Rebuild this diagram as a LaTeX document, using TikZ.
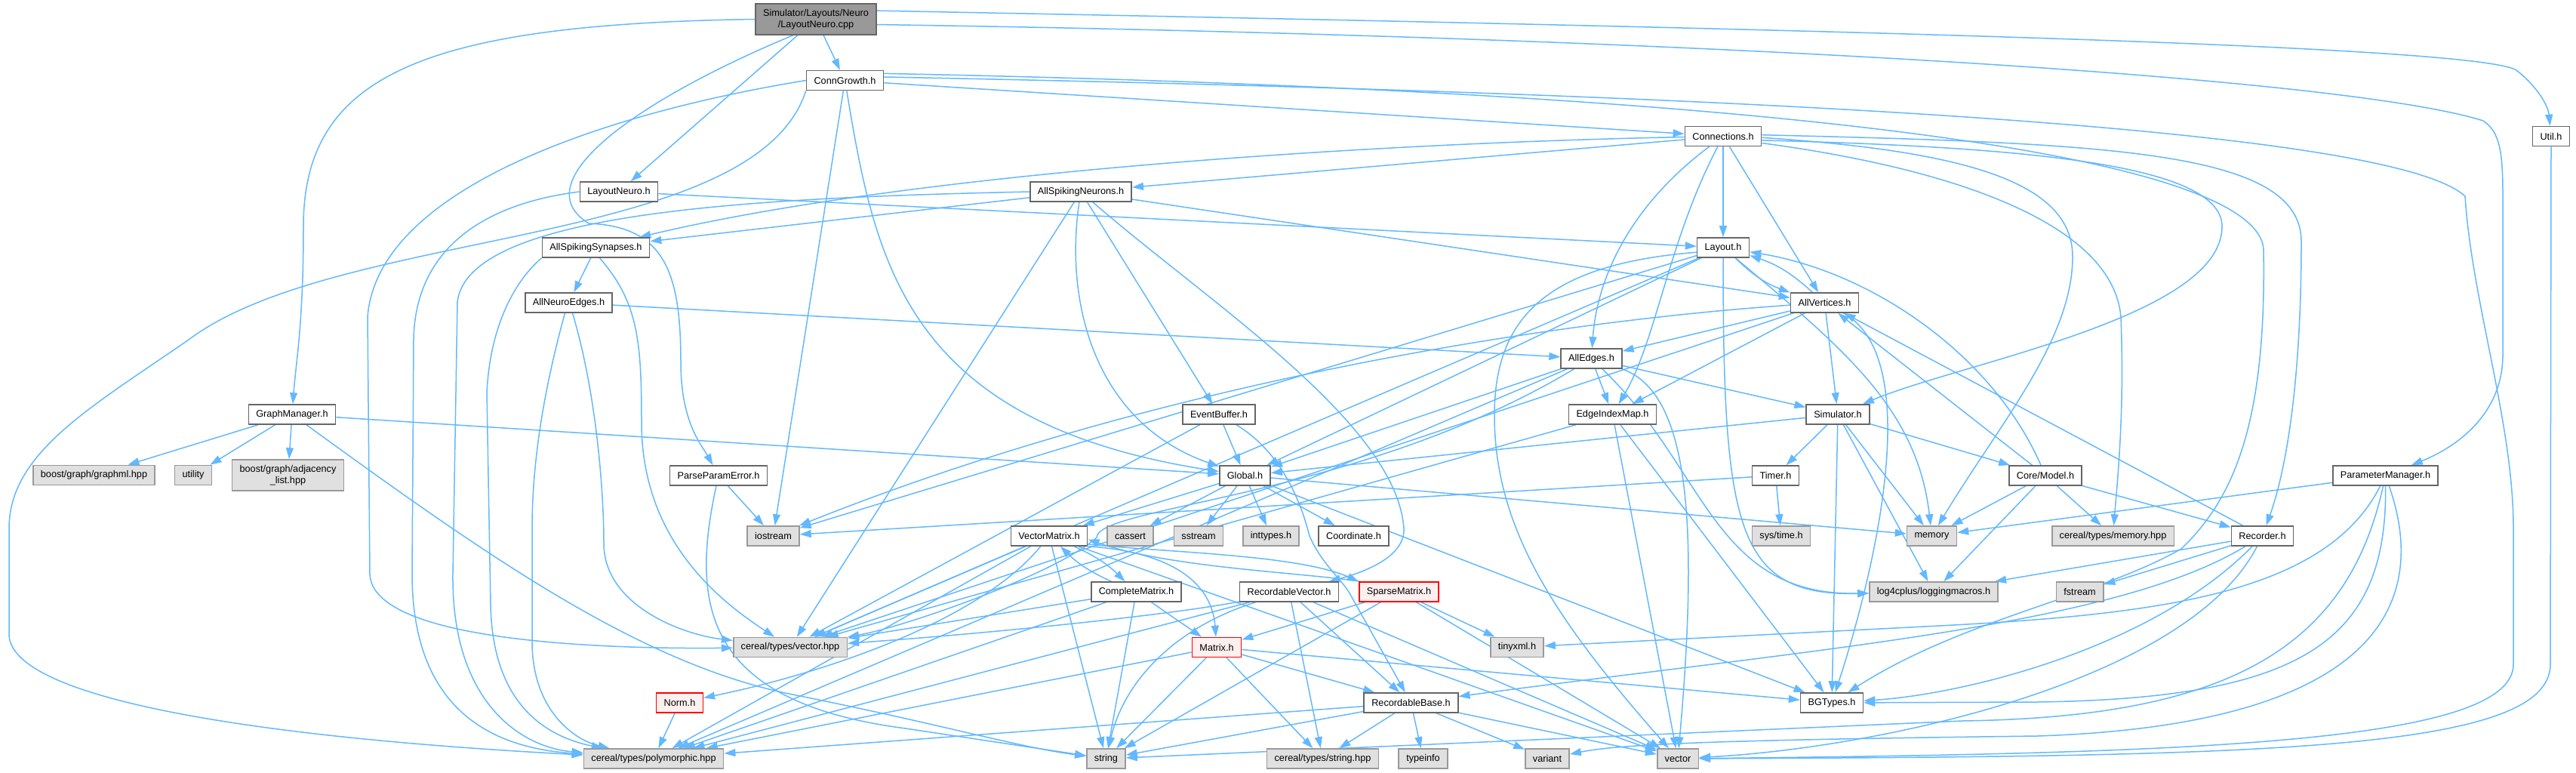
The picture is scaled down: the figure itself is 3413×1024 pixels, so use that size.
\documentclass[tikz,border=0pt]{standalone}
\usepackage{fontspec}
\setmainfont{Liberation Sans}
\usetikzlibrary{arrows.meta,backgrounds}

\definecolor{incblue}{HTML}{63B8FF}
\definecolor{docgray}{HTML}{666666}
\definecolor{sysgray}{HTML}{999999}
\definecolor{sysfill}{HTML}{E0E0E0}
\definecolor{errred}{HTML}{FF0000}
\definecolor{errfill}{HTML}{FFF0F0}

\tikzset{
  hfile/.style={draw=docgray, fill=white, line width=1.6pt, inner xsep=10pt, inner ysep=0pt,
    minimum height=26pt, align=center, font=\fontsize{12.7}{15.2}\selectfont},
  sysfile/.style={hfile, draw=sysgray, fill=sysfill},
  errfile/.style={hfile, draw=errred, fill=errfill},
  mainfile/.style={hfile, fill=sysgray, minimum height=41pt},
  inc/.style={incblue, line width=1.5pt, -{Triangle[length=15pt,width=10pt]}},
}

\begin{document}
\begin{tikzpicture}[x=1pt,y=-1pt]
\useasboundingbox (0,0) rectangle (3413,1024);

% the source file and the headers it pulls in, row by row
\node[mainfile] (cpp) at (1081,25.5) {Simulator/Layouts/Neuro\\/LayoutNeuro.cpp};
\node[hfile] (ConnGrowth) at (1119.5,106.5) {ConnGrowth.h};
\node[hfile] (Connections) at (2283,180.5) {Connections.h};
\node[hfile] (Util) at (3380,180.5) {Util.h};
\node[hfile] (LayoutNeuroH) at (820,254) {LayoutNeuro.h};
\node[hfile] (AllSpikingNeurons) at (1432,254) {AllSpikingNeurons.h};
\node[hfile] (AllSpikingSynapses) at (789.5,328) {AllSpikingSynapses.h};
\node[hfile] (Layout) at (2283,328) {Layout.h};
\node[hfile] (AllNeuroEdges) at (753.5,401) {AllNeuroEdges.h};
\node[hfile] (AllVertices) at (2417.5,401) {AllVertices.h};
\node[hfile] (AllEdges) at (2108.5,475) {AllEdges.h};
\node[hfile] (GraphManager) at (387,549) {GraphManager.h};
\node[hfile] (EventBuffer) at (1615,549) {EventBuffer.h};
\node[hfile] (EdgeIndexMap) at (2136.5,549) {EdgeIndexMap.h};
\node[hfile] (Simulator) at (2435,549) {Simulator.h};
\node[sysfile] (graphml) at (124.5,629.5) {boost/graph/graphml.hpp};
\node[sysfile] (utility) at (256,629.5) {utility};
\node[sysfile, minimum height=41pt] (adjlist) at (381.5,629.5) {boost/graph/adjacency\\\_list.hpp};
\node[hfile] (ParseParamError) at (952,630) {ParseParamError.h};
\node[hfile] (Global) at (1649.5,630) {Global.h};
\node[hfile] (Timer) at (2352.5,630) {Timer.h};
\node[hfile] (CoreModel) at (2710,630) {Core/Model.h};
\node[hfile] (ParameterManager) at (3160.5,630) {ParameterManager.h};
\node[sysfile] (iostream) at (1024.5,710) {iostream};
\node[hfile] (VectorMatrix) at (1390,710) {VectorMatrix.h};
\node[sysfile] (cassert) at (1497.5,710) {cassert};
\node[sysfile] (sstream) at (1588,710) {sstream};
\node[sysfile] (inttypes) at (1684,710) {inttypes.h};
\node[hfile] (Coordinate) at (1793.5,710) {Coordinate.h};
\node[sysfile] (systime) at (2360,710) {sys/time.h};
\node[sysfile] (memory) at (2559.5,710) {memory};
\node[sysfile] (memoryhpp) at (2799.5,710) {cereal/types/memory.hpp};
\node[hfile] (Recorder) at (2997.5,710) {Recorder.h};
\node[hfile] (CompleteMatrix) at (1505.5,784) {CompleteMatrix.h};
\node[hfile] (RecordableVector) at (1708,784) {RecordableVector.h};
\node[errfile] (SparseMatrix) at (1853.5,784) {SparseMatrix.h};
\node[sysfile] (log4cplus) at (2562,784) {log4cplus/loggingmacros.h};
\node[sysfile] (fstream) at (2755.5,784) {fstream};
\node[sysfile] (vectorhpp) at (1047,857.5) {cereal/types/vector.hpp};
\node[errfile] (Matrix) at (1612,857.5) {Matrix.h};
\node[sysfile] (tinyxml) at (2010,857.5) {tinyxml.h};
\node[errfile] (Norm) at (900.5,931) {Norm.h};
\node[hfile] (RecordableBase) at (1869.5,931) {RecordableBase.h};
\node[hfile] (BGTypes) at (2427,931) {BGTypes.h};
\node[sysfile] (polymorphic) at (866,1005) {cereal/types/polymorphic.hpp};
\node[sysfile] (string) at (1465.5,1005) {string};
\node[sysfile] (stringhpp) at (1752.5,1005) {cereal/types/string.hpp};
\node[sysfile] (typeinfo) at (1885.5,1005) {typeinfo};
\node[sysfile] (variant) at (2050,1005) {variant};
\node[sysfile] (vector) at (2223,1005) {vector};

% bends of the long connectors that run round the left and right edges
\coordinate (farleft) at (12,700);
\coordinate (farleftlow) at (12,840);

\begin{scope}[on background layer]
% direct includes
\foreach \src/\dst in {
    cpp/LayoutNeuroH, cpp/ConnGrowth,
    ConnGrowth/Connections, ConnGrowth/iostream,
    Connections/AllSpikingNeurons, Connections/Layout, Connections/AllVertices,
    LayoutNeuroH/Layout,
    AllSpikingNeurons/AllSpikingSynapses, AllSpikingNeurons/AllVertices,
    AllSpikingNeurons/EventBuffer, AllSpikingNeurons/vectorhpp,
    AllSpikingSynapses/AllNeuroEdges, AllNeuroEdges/AllEdges,
    Layout/iostream, Layout/Global, Layout/vectorhpp,
    AllVertices/AllEdges, AllVertices/EdgeIndexMap, AllVertices/Simulator, AllVertices/vectorhpp,
    AllEdges/Simulator, AllEdges/EdgeIndexMap, AllEdges/polymorphic, AllEdges/Global,
    EventBuffer/Global, EventBuffer/vectorhpp,
    EdgeIndexMap/vector, EdgeIndexMap/BGTypes, EdgeIndexMap/vectorhpp,
    Simulator/Global, Simulator/Timer, Simulator/BGTypes, Simulator/memory,
    Simulator/log4cplus, Simulator/CoreModel,
    Timer/iostream, Timer/systime,
    GraphManager/graphml, GraphManager/utility, GraphManager/adjlist, GraphManager/Global,
    ParseParamError/iostream,
    Global/VectorMatrix, Global/cassert, Global/sstream, Global/inttypes,
    Global/Coordinate, Global/memory, Global/BGTypes,
    VectorMatrix/vectorhpp, VectorMatrix/polymorphic, VectorMatrix/string, VectorMatrix/vector,
    CompleteMatrix/Matrix, CompleteMatrix/string, CompleteMatrix/vectorhpp, CompleteMatrix/polymorphic,
    RecordableVector/RecordableBase, RecordableVector/stringhpp, RecordableVector/vector,
    RecordableVector/polymorphic,
    SparseMatrix/Matrix, SparseMatrix/tinyxml, SparseMatrix/vector, SparseMatrix/string,
    Matrix/BGTypes, Matrix/RecordableBase, Matrix/string, Matrix/polymorphic, Matrix/stringhpp,
    Norm/polymorphic,
    RecordableBase/stringhpp, RecordableBase/typeinfo, RecordableBase/variant,
    RecordableBase/vector, RecordableBase/string, RecordableBase/polymorphic,
    CoreModel/AllVertices, CoreModel/memory, CoreModel/log4cplus, CoreModel/memoryhpp, CoreModel/Recorder,
    Recorder/AllVertices, Recorder/log4cplus, Recorder/fstream,
    ParameterManager/memory} {
  \draw[inc] (\src) -- (\dst);
}

% pairs that include each other
\draw[inc] (Layout) to[bend right=12] (AllVertices);
\draw[inc] (AllVertices) to[bend right=12] (Layout);
\draw[inc] (VectorMatrix) to[bend left=10] (CompleteMatrix);
\draw[inc] (CompleteMatrix) to[bend left=10] (VectorMatrix);
\draw[inc] (VectorMatrix.348) .. controls (1550,732) and (1720,735) .. (SparseMatrix.north west);
\draw[inc] (SparseMatrix.165) .. controls (1720,758) and (1550,752) .. (VectorMatrix.355);

% bent round the boxes in between
\draw[inc] (Connections) .. controls (1800,190) and (1200,230) .. (AllSpikingSynapses);
\draw[inc] (AllVertices) .. controls (2000,430) and (1500,520) .. (iostream);
\draw[inc] (AllEdges) .. controls (1800,660) and (1455,670) .. (1453,712) .. controls (1400,760) and (1200,830) .. (vectorhpp);
\draw[inc] (AllEdges) .. controls (2260,620) and (2270,790) .. (log4cplus);
\draw[inc] (RecordableVector) .. controls (1550,815) and (1300,840) .. (vectorhpp);
\draw[inc] (GraphManager) .. controls (650,740) and (850,880) .. (1050,920) .. controls (1250,960) and (1350,990) .. (string);
\draw[inc] (cpp.215) .. controls (850,130) and (690,240) .. (780,296) .. controls (880,300) and (902,360) .. (902,480) .. controls (902,560) and (930,590) .. (ParseParamError);

% long ones round the top and the right
\draw[inc] (cpp.west) .. controls (560,32) and (402,100) .. (402,300) .. controls (402,430) and (392,480) .. (GraphManager);
\draw[inc] (cpp.8) .. controls (2400,38) and (3280,60) .. (3334,93) .. controls (3362,115) and (3376,140) .. (Util);
\draw[inc] (cpp.355) .. controls (2200,48) and (3100,100) .. (3290,160) .. controls (3312,175) and (3316,200) .. (3316,260) -- (3316,470) .. controls (3316,545) and (3260,590) .. (ParameterManager);
\draw[inc] (ConnGrowth.5) .. controls (2500,128) and (3180,180) .. (3266,260) .. controls (3275,400) and (3330,560) .. (3330,700) -- (3330,880) .. controls (3330,985) and (2900,998) .. (vector);
\draw[inc] (ConnGrowth.10) .. controls (2400,122) and (2990,210) .. (2999,330) .. controls (3003,560) and (2960,660) .. (2890,727) .. controls (2780,790) and (2600,820) .. (BGTypes);
\draw[inc] (Util) -- (3379,880) .. controls (3379,995) and (3000,1002) .. (vector);
\draw[inc] (Connections.2) .. controls (2800,190) and (3049,200) .. (3049,320) .. controls (3049,500) and (3030,620) .. (Recorder);
\draw[inc] (Connections.358) .. controls (2600,200) and (2746,240) .. (2746,340) .. controls (2746,450) and (2650,560) .. (memory);
\draw[inc] (Connections.354) .. controls (2700,195) and (2944,220) .. (2944,300) .. controls (2944,420) and (2600,480) .. (Simulator);
\draw[inc] (Connections.350) .. controls (2600,225) and (2800,300) .. (2810,420) .. controls (2815,550) and (2805,640) .. (memoryhpp);

% long ones round the left
\draw[inc] (ConnGrowth.west) .. controls (800,150) and (500,250) .. (487,420) -- (490,760) .. controls (492,850) and (800,860) .. (vectorhpp);
\draw[inc] (ConnGrowth.south west) .. controls (1000,330) and (450,300) .. (250,450) .. controls (120,540) and (12,600) .. (farleft) -- (farleftlow) .. controls (12,920) and (300,975) .. (polymorphic);
\draw[inc] (LayoutNeuroH.west) .. controls (640,270) and (550,330) .. (548,450) -- (546,760) .. controls (546,930) and (640,990) .. (polymorphic);
\draw[inc] (AllSpikingNeurons.west) .. controls (1000,262) and (620,280) .. (606,400) -- (600,760) .. controls (598,930) and (690,990) .. (polymorphic);
\draw[inc] (AllSpikingSynapses.south west) .. controls (690,365) and (650,420) .. (645,520) -- (650,800) .. controls (652,930) and (720,975) .. (polymorphic);
\draw[inc] (AllSpikingSynapses.290) .. controls (845,400) and (850,450) .. (850,560) .. controls (850,720) and (960,800) .. (vectorhpp);
\draw[inc] (AllNeuroEdges.250) .. controls (725,500) and (705,600) .. (705,700) -- (705,850) .. controls (705,940) and (760,980) .. (polymorphic);
\draw[inc] (AllNeuroEdges.290) .. controls (790,520) and (800,650) .. (800,720) .. controls (800,800) and (900,840) .. (vectorhpp);

% the middle
\draw[inc] (ConnGrowth) .. controls (1160,350) and (1200,560) .. (Global);
\draw[inc] (AllSpikingNeurons) .. controls (1410,400) and (1450,560) .. (Global);
\draw[inc] (AllSpikingNeurons) .. controls (1600,400) and (1850,560) .. (1860,700) .. controls (1862,740) and (1800,760) .. (RecordableVector);
\draw[inc] (Connections) .. controls (2150,280) and (2115,380) .. (AllEdges);
\draw[inc] (Connections) .. controls (2210,320) and (2195,450) .. (EdgeIndexMap);
\draw[inc] (CoreModel) .. controls (2640,470) and (2480,360) .. (Layout);
\draw[inc] (Layout.190) .. controls (2050,350) and (1980,420) .. (1980,550) .. controls (1980,700) and (2060,820) .. (vector);
\draw[inc] (Layout) .. controls (2283,700) and (2300,790) .. (log4cplus);
\draw[inc] (Layout) .. controls (2440,460) and (2540,540) .. (memory);
\draw[inc] (AllVertices) .. controls (2560,480) and (2470,800) .. (BGTypes);
\draw[inc] (AllEdges) .. controls (2240,520) and (2250,700) .. (vector);
\draw[inc] (EventBuffer) .. controls (1700,600) and (1725,670) .. (1735,710) .. controls (1750,745) and (1775,765) .. (1787,784) -- (RecordableBase);
\draw[inc] (VectorMatrix.south east) .. controls (1540,730) and (1605,765) .. (Matrix);
\draw[inc] (VectorMatrix) .. controls (1300,820) and (1100,890) .. (Norm);
\draw[inc] (RecordableVector) .. controls (1560,830) and (1490,900) .. (string);
\draw[inc] (ParseParamError) .. controls (915,800) and (930,930) .. (1200,965) -- (string);

% from the recorder and the parameter manager
\draw[inc] (Recorder) .. controls (2800,830) and (2400,860) .. (RecordableBase);
\draw[inc] (Recorder) .. controls (2850,860) and (2600,920) .. (BGTypes);
\draw[inc] (Recorder) .. controls (2900,900) and (2500,990) .. (vector);
\draw[inc] (ParameterManager) .. controls (3080,790) and (2850,815) .. (2550,830) -- (tinyxml);
\draw[inc] (ParameterManager) .. controls (3163,850) and (3050,925) .. (2700,930) -- (BGTypes);
\draw[inc] (ParameterManager) .. controls (3110,860) and (2950,950) .. (2600,955) -- (string);
\draw[inc] (ParameterManager) .. controls (3220,800) and (3150,960) .. (2700,975) .. controls (2300,980) and (2150,985) .. (variant);
\end{scope}
\end{tikzpicture}
\end{document}
